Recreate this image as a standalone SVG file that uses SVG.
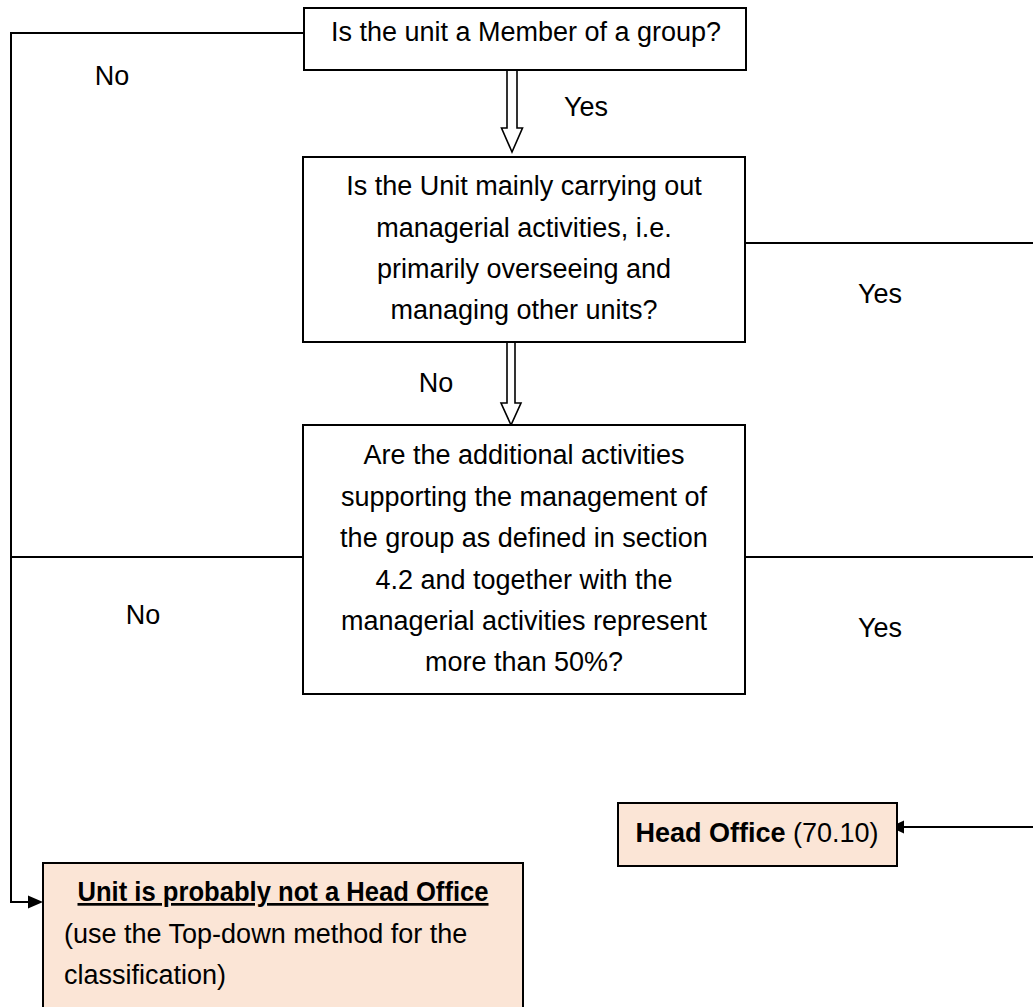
<svg xmlns="http://www.w3.org/2000/svg" width="1033" height="1007" viewBox="0 0 1033 1007">
  <style>
    text { font-family: "Liberation Sans", Arial, sans-serif; font-size: 27px; fill: #000; }
    .c { text-anchor: middle; }
    .b { font-weight: bold; }
    .box { fill: #ffffff; stroke: #000; stroke-width: 2; }
    .peach { fill: #fbe5d6; stroke: #000; stroke-width: 2; }
    .conn { fill: none; stroke: #000; stroke-width: 2; }
    .hollow { fill: #fff; stroke: #000; stroke-width: 1.6; stroke-linejoin: miter; }
    .head { fill: #000; stroke: none; }
  </style>
  <rect width="1033" height="1007" fill="#fff"/>

  <g id="connectors">
    <polyline class="conn" points="304,33 11,33 11,902 30,902"/>
    <line class="conn" x1="303" y1="557" x2="11" y2="557"/>
    <line class="conn" x1="745" y1="243" x2="1033" y2="243"/>
    <line class="conn" x1="745" y1="557" x2="1033" y2="557"/>
    <line class="conn" x1="1033" y1="827" x2="902" y2="827"/>
    <polygon class="head" points="43,902 28,895.5 28,908.5"/>
    <polygon class="head" points="890,827 904,820.5 904,833.5"/>
    <polygon class="hollow" points="507,70 517,70 517,128 522.5,128 512,152 501.5,128 507,128"/>
    <polygon class="hollow" points="507,342 515,342 515,403 521,403 511,425 501,403 507,403"/>
    <text id="lbl-no1" x="112" y="85" class="c">No</text>
    <text id="lbl-yes1" x="586" y="116" class="c">Yes</text>
    <text id="lbl-yes2" x="880" y="303" class="c">Yes</text>
    <text id="lbl-no2" x="436" y="392" class="c">No</text>
    <text id="lbl-no3" x="143" y="624" class="c">No</text>
    <text id="lbl-yes3" x="880" y="637" class="c">Yes</text>
  </g>

  <g id="q1">
    <rect class="box" x="304" y="8" width="442" height="62"/>
    <text x="526" y="41" class="c">Is the unit a Member of a group?</text>
  </g>

  <g id="q2">
    <rect class="box" x="303" y="157" width="442" height="185"/>
    <text x="524" y="195" class="c">Is the Unit mainly carrying out</text>
    <text x="524" y="237" class="c">managerial activities, i.e.</text>
    <text x="524" y="278" class="c">primarily overseeing and</text>
    <text x="524" y="319" class="c">managing other units?</text>
  </g>

  <g id="q3">
    <rect class="box" x="303" y="425" width="442" height="269"/>
    <text x="524" y="464" class="c">Are the additional activities</text>
    <text x="524" y="506" class="c">supporting the management of</text>
    <text x="524" y="547" class="c">the group as defined in section</text>
    <text x="524" y="589" class="c">4.2 and together with the</text>
    <text x="524" y="630" class="c">managerial activities represent</text>
    <text x="524" y="671" class="c">more than 50%?</text>
  </g>

  <g id="head-office">
    <rect class="peach" x="618" y="803" width="279" height="63"/>
    <text x="757" y="842" class="c"><tspan class="b">Head Office</tspan> (70.10)</text>
  </g>

  <g id="not-head-office">
    <rect class="peach" x="43" y="863" width="480" height="150"/>
    <text x="283" y="901" class="c b" text-decoration="underline" textLength="411" lengthAdjust="spacingAndGlyphs">Unit is probably not a Head Office</text>
    <text x="64" y="943">(use the Top-down method for the</text>
    <text x="64" y="984">classification)</text>
  </g>
</svg>
